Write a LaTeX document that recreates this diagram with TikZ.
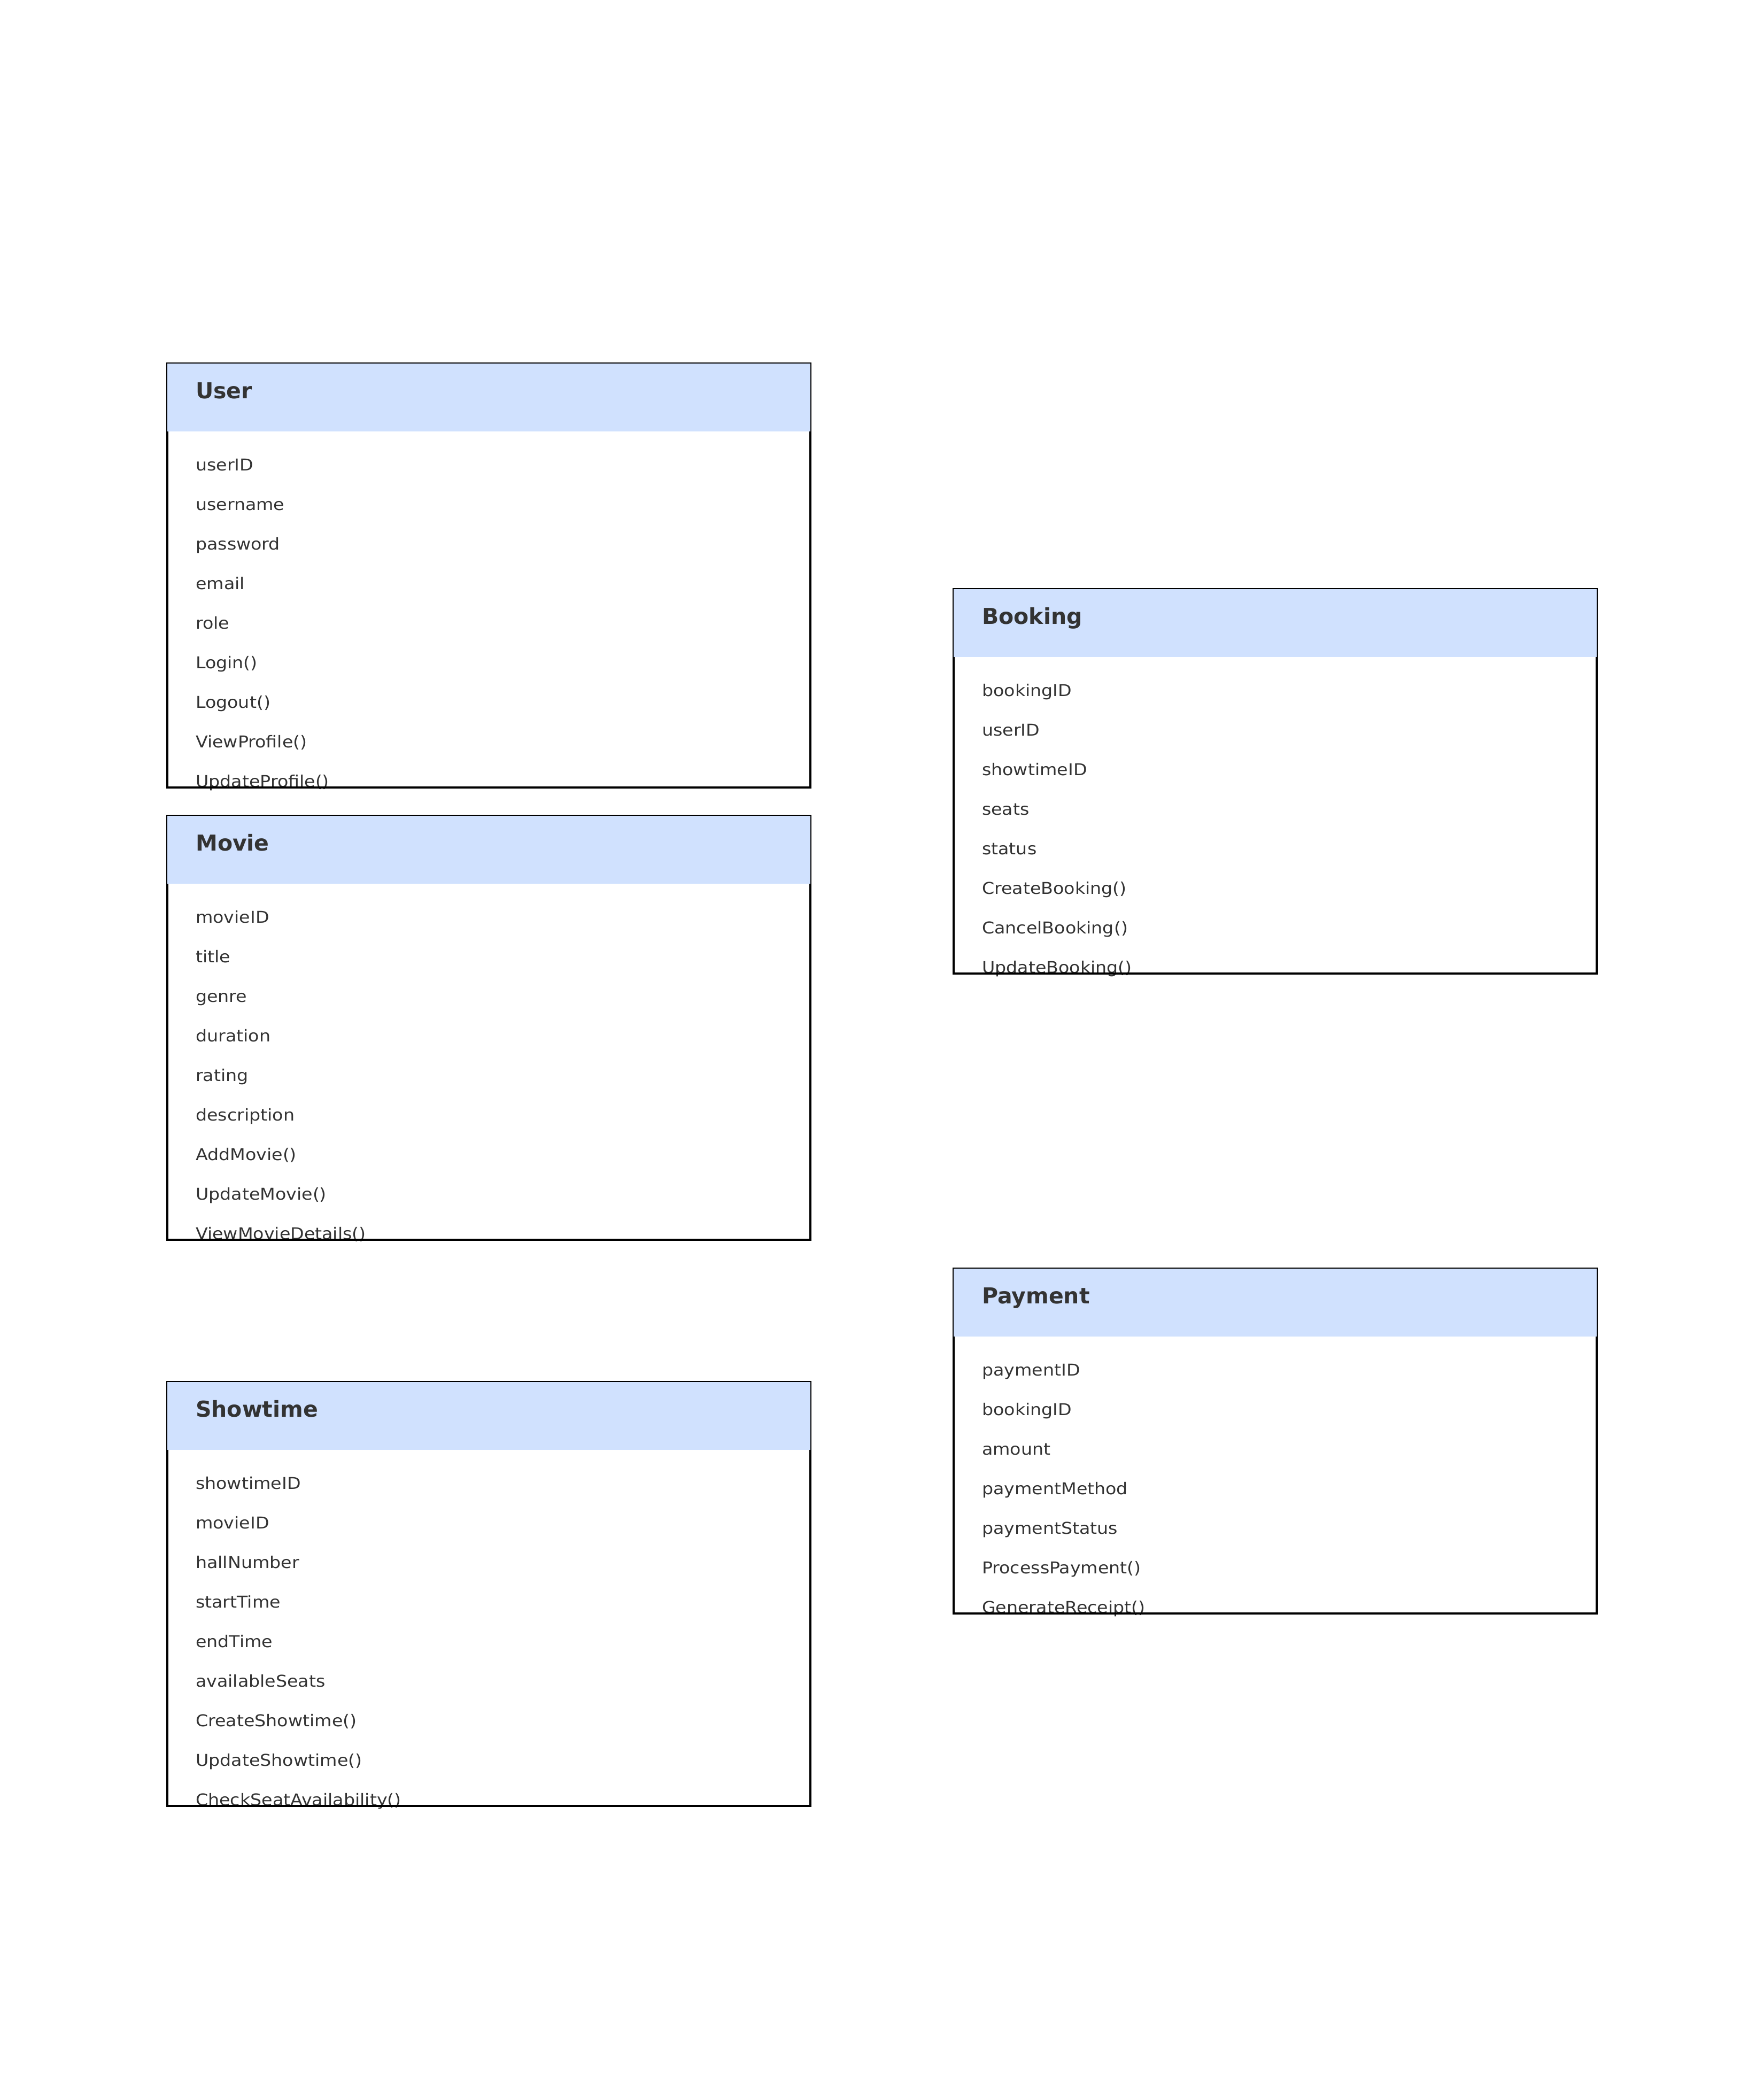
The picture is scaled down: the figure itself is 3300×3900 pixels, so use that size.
\documentclass[tikz,border=0pt]{standalone}
\usepackage{fontspec}
\setmainfont{DejaVu Sans}
\newfontfamily\itemfont[FakeStretch=1.09]{DejaVu Sans}
\definecolor{hdr}{RGB}{208,225,254}
\definecolor{txt}{RGB}{51,51,51}
\tikzset{
  itemtext/.style={anchor=base west, inner sep=0pt, text=txt, font=\itemfont\fontsize{30.5}{36}\selectfont},
  titletext/.style={anchor=base west, inner sep=0pt, text=txt, font=\fontsize{41}{48}\selectfont\bfseries},
  boxline/.style={draw=black, line width=4.3pt},
  hdrfill/.style={fill=hdr},
}
\newcommand\umlclass[6]{%
  \foreach \lbl [count=\i from 0] in {#5} {
    \node[itemtext] (#1-\i) at ({#2+53},{#3+200+74*\i}) {\lbl};
  }
  \draw[boxline] (#2,#3) rectangle ({#2+1203},{#3+127+74*#6});
  \fill[hdrfill] (#2,#3) rectangle ({#2+1203},{#3+127});
  \node[titletext] (#1) at ({#2+53},{#3+65}) {#4};
}
\begin{document}
\begin{tikzpicture}[x=1pt,y=-1pt]
\fill[white] (0,0) rectangle (3300,3900);
\useasboundingbox (0,0) rectangle (3300,3900);
\umlclass{user}{313}{680}{User}{userID,username,password,email,role,Login(),Logout(),ViewProfile(),UpdateProfile()}{9}
\umlclass{movie}{313}{1526}{Movie}{movieID,title,genre,duration,rating,description,AddMovie(),UpdateMovie(),ViewMovieDetails()}{9}
\umlclass{showtime}{313}{2585}{Showtime}{showtimeID,movieID,hallNumber,startTime,endTime,availableSeats,CreateShowtime(),UpdateShowtime(),CheckSeatAvailability()}{9}
\umlclass{booking}{1784}{1102}{Booking}{bookingID,userID,showtimeID,seats,status,CreateBooking(),CancelBooking(),UpdateBooking()}{8}
\umlclass{payment}{1784}{2373}{Payment}{paymentID,bookingID,amount,paymentMethod,paymentStatus,ProcessPayment(),GenerateReceipt()}{7}
\end{tikzpicture}
\end{document}
